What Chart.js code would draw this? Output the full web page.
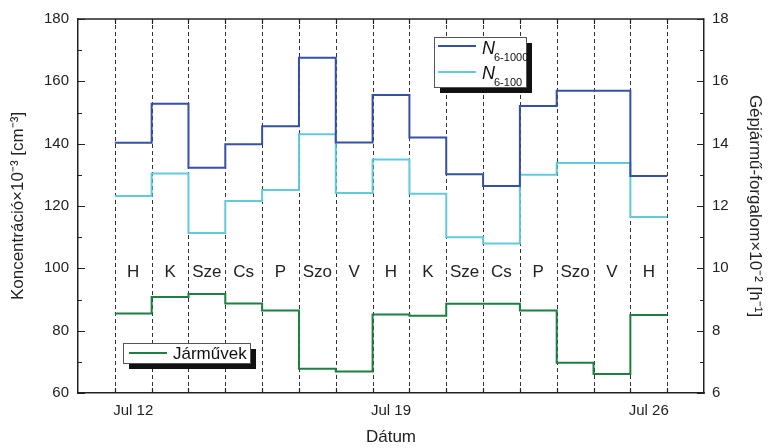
<!DOCTYPE html>
<html lang="hu">
<head>
<meta charset="UTF-8" />
<title>Koncentráció és gépjármű-forgalom</title>
<script src="https://cdn.jsdelivr.net/npm/chart.js"></script>
<style>
  body { margin: 0; background: #fff; }
</style>
</head>
<body>
<canvas id="chart" width="769" height="448"></canvas>
<script>
// napok (Jul 12 - Jul 26)
const dayNames = ["H", "K", "Sze", "Cs", "P", "Szo", "V", "H", "K", "Sze", "Cs", "P", "Szo", "V", "H"];
// N 6-1000 nm, koncentráció x10^-3 [cm^-3]
const n1000 = [140.3, 152.8, 132.3, 139.8, 145.6, 167.6, 140.4, 155.6, 142.0, 130.2, 126.4, 152.1, 157.0, 157.0, 129.6];
// N 6-100 nm
const n100 = [123.2, 130.4, 111.3, 121.6, 125.1, 143.0, 124.2, 134.9, 123.9, 110.0, 108.0, 130.0, 133.8, 133.8, 116.5];
// gépjármű-forgalom x10^-2 [h^-1]
const vehicles = [8.55, 9.08, 9.18, 8.87, 8.65, 6.78, 6.69, 8.52, 8.48, 8.86, 8.86, 8.65, 6.97, 6.61, 8.50];
// dátum feliratok (nap közepén)
const dateTicks = [0.5, 7.5, 14.5];
const dateLabels = ["Jul 12", "Jul 19", "Jul 26"];
const dayLabelLevel = 98.6;

const FONT = "'Liberation Sans', Arial, sans-serif";
Chart.defaults.font.family = FONT;
Chart.defaults.color = "#222";

// each day is held until the next boundary
function toSteps(values) {
  const pts = values.map((v, i) => ({ x: i, y: v }));
  pts.push({ x: values.length, y: values[values.length - 1] });
  return pts;
}

function legendBox(ctx, x, y, w, h) {
  ctx.fillStyle = "#111";
  ctx.fillRect(x + 6, y + 6, w, h);
  ctx.fillStyle = "#fff";
  ctx.fillRect(x, y, w, h);
  ctx.strokeStyle = "#555";
  ctx.lineWidth = 1;
  ctx.strokeRect(x + 0.5, y + 0.5, w, h);
}

const framePlugin = {
  id: "frame",
  beforeDatasetsDraw(chart) {
    const { ctx, chartArea: a, scales: { x, y } } = chart;
    ctx.save();
    // dashed day boundaries
    ctx.strokeStyle = "#333";
    ctx.lineWidth = 1;
    ctx.setLineDash([4, 3]);
    for (let i = 0; i <= dayNames.length; i++) {
      const px = Math.round(x.getPixelForValue(i)) + 0.5;
      ctx.beginPath();
      ctx.moveTo(px, a.bottom);
      ctx.lineTo(px, a.top);
      ctx.stroke();
    }
    ctx.setLineDash([]);
    // day names
    ctx.font = "17px " + FONT;
    ctx.fillStyle = "#222";
    ctx.textAlign = "center";
    ctx.textBaseline = "middle";
    dayNames.forEach((d, i) => {
      ctx.fillText(d, x.getPixelForValue(i + 0.5), y.getPixelForValue(dayLabelLevel));
    });
    ctx.restore();
  },
  afterDraw(chart) {
    const { ctx, chartArea: a, scales: { x, y, y2 } } = chart;
    ctx.save();
    ctx.strokeStyle = "#222";
    ctx.lineWidth = 1.5;
    // top border
    ctx.beginPath();
    ctx.moveTo(a.left, a.top);
    ctx.lineTo(a.right, a.top);
    ctx.stroke();
    // inward ticks
    ctx.lineWidth = 1.2;
    ctx.beginPath();
    for (let v = 60; v <= 180; v += 10) {
      const py = Math.round(y.getPixelForValue(v)) + 0.5;
      ctx.moveTo(a.left, py);
      ctx.lineTo(a.left + (v % 20 === 0 ? 7 : 4), py);
    }
    for (let v = 6; v <= 18; v += 1) {
      const py = Math.round(y2.getPixelForValue(v)) + 0.5;
      ctx.moveTo(a.right, py);
      ctx.lineTo(a.right - (v % 2 === 0 ? 7 : 4), py);
    }
    for (let i = 0; i <= dayNames.length; i++) {
      const px = Math.round(x.getPixelForValue(i)) + 0.5;
      ctx.moveTo(px, a.bottom);
      ctx.lineTo(px, a.bottom - 5);
      ctx.moveTo(px, a.top);
      ctx.lineTo(px, a.top + 5);
    }
    ctx.stroke();

    // legend: N6-1000 / N6-100
    const ds = chart.data.datasets;
    legendBox(ctx, 434, 37, 92, 50);
    ctx.lineWidth = 2;
    ctx.strokeStyle = ds[0].borderColor;
    ctx.beginPath(); ctx.moveTo(438, 46); ctx.lineTo(476, 46); ctx.stroke();
    ctx.strokeStyle = ds[1].borderColor;
    ctx.beginPath(); ctx.moveTo(438, 72); ctx.lineTo(476, 72); ctx.stroke();
    ctx.fillStyle = "#111";
    ctx.textAlign = "left";
    ctx.textBaseline = "alphabetic";
    [["6-1000", 54, 61], ["6-100", 79, 86]].forEach(([sub, base, subBase]) => {
      ctx.font = "italic 18px " + FONT;
      ctx.fillText("N", 482, base);
      const w = ctx.measureText("N").width;
      ctx.font = "11px " + FONT;
      ctx.fillText(sub, 482 + w - 1, subBase);
    });

    // legend: Járművek
    legendBox(ctx, 123, 343, 127, 20);
    ctx.strokeStyle = ds[2].borderColor;
    ctx.lineWidth = 2;
    ctx.beginPath(); ctx.moveTo(129, 353); ctx.lineTo(167, 353); ctx.stroke();
    ctx.fillStyle = "#111";
    ctx.font = "17px " + FONT;
    ctx.fillText("Járművek", 173, 359);
    ctx.restore();
  }
};

const lineStyle = { borderWidth: 2, stepped: true, pointRadius: 0, fill: false };

new Chart(document.getElementById("chart"), {
  type: "line",
  data: {
    datasets: [
      { label: "N6-1000", data: toSteps(n1000), yAxisID: "y", borderColor: "#3451a6", ...lineStyle },
      { label: "N6-100", data: toSteps(n100), yAxisID: "y", borderColor: "#63c9de", ...lineStyle },
      { label: "Járművek", data: toSteps(vehicles), yAxisID: "y2", borderColor: "#1b8040", ...lineStyle }
    ]
  },
  options: {
    responsive: false,
    animation: false,
    layout: { padding: { top: 19, left: 0, right: 0, bottom: 0 } },
    plugins: { legend: { display: false }, tooltip: { enabled: false } },
    scales: {
      x: {
        type: "linear",
        min: -1,
        max: 16,
        grid: { display: false, drawTicks: false },
        border: { display: true, color: "#222", width: 1.5 },
        afterBuildTicks: (s) => { s.ticks = dateTicks.map((v) => ({ value: v })); },
        afterFit: (s) => { s.height = 55; },
        ticks: {
          font: { size: 15 },
          padding: 9,
          maxRotation: 0,
          callback: (v) => dateLabels[dateTicks.indexOf(v)]
        },
        title: { display: true, text: "Dátum", font: { size: 17 }, padding: { top: 4, bottom: 0 } }
      },
      y: {
        position: "left",
        min: 60,
        max: 180,
        grid: { display: false, drawTicks: false },
        border: { display: true, color: "#222", width: 1.5 },
        afterFit: (s) => { s.width = 78; },
        ticks: { stepSize: 20, font: { size: 15 }, padding: 9 },
        title: { display: true, text: "Koncentráció×10⁻³ [cm⁻³]", font: { size: 17 }, padding: { top: 8, bottom: 0 } }
      },
      y2: {
        position: "right",
        min: 6,
        max: 18,
        grid: { display: false, drawTicks: false },
        border: { display: true, color: "#222", width: 1.5 },
        afterFit: (s) => { s.width = 65; },
        ticks: { stepSize: 2, font: { size: 15 }, padding: 8 },
        title: { display: true, text: "Gépjármű-forgalom×10⁻² [h⁻¹]", font: { size: 17 }, padding: { top: 4, bottom: 0 } }
      }
    }
  },
  plugins: [framePlugin]
});
</script>
</body>
</html>
